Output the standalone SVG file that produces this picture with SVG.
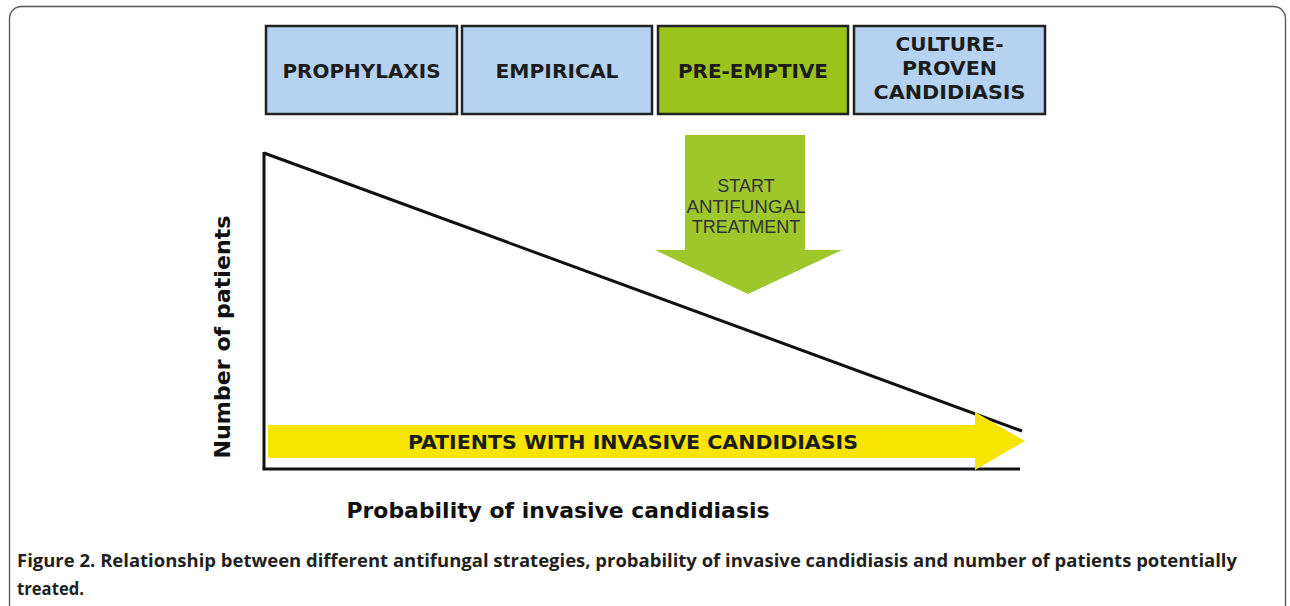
<svg xmlns="http://www.w3.org/2000/svg" width="1290" height="606" viewBox="0 0 1290 606">
<style>
.box{stroke:#222;stroke-width:2.5}
.blue{fill:#b5d3f0}
.green{fill:#9bc31c}
.bt{font-family:"DejaVu Sans",sans-serif;font-weight:bold;font-size:19px;fill:#1c1c1c;text-anchor:middle}
.ax{font-family:"DejaVu Sans",sans-serif;font-weight:bold;font-size:22px;fill:#111;text-anchor:middle}
.cap{font-family:"Open Sans","Liberation Sans",sans-serif;font-weight:bold;font-size:18px;fill:#231f20}
</style>
<rect x="9.5" y="6.5" width="1276" height="720" rx="12" fill="#fff" stroke="#555" stroke-width="1.3"/>
<g id="prophylaxis">
<rect class="box blue" x="266" y="26" width="191" height="88"/>
<text class="bt" x="361.5" y="78" textLength="158" lengthAdjust="spacingAndGlyphs">PROPHYLAXIS</text>
</g>
<g id="empirical">
<rect class="box blue" x="462" y="26" width="190" height="88"/>
<text class="bt" x="557" y="78" textLength="123" lengthAdjust="spacingAndGlyphs">EMPIRICAL</text>
</g>
<g id="preemptive">
<rect class="box green" x="658" y="26" width="190" height="88"/>
<text class="bt" x="753" y="78" textLength="150" lengthAdjust="spacingAndGlyphs">PRE-EMPTIVE</text>
</g>
<g id="culture">
<rect class="box blue" x="854" y="26" width="191" height="88"/>
<text class="bt" x="949.5" y="51" textLength="108" lengthAdjust="spacingAndGlyphs">CULTURE-</text>
<text class="bt" x="949.5" y="75" textLength="95" lengthAdjust="spacingAndGlyphs">PROVEN</text>
<text class="bt" x="949.5" y="99" textLength="152" lengthAdjust="spacingAndGlyphs">CANDIDIASIS</text>
</g>
<g id="connectors">
<g id="triangle" fill="none" stroke="#111" stroke-width="3">
<line x1="264" y1="152" x2="264" y2="469"/>
<line x1="262.5" y1="469" x2="1020" y2="469"/>
<line x1="264" y1="153" x2="1022" y2="431"/>
</g>
<g id="patients-arrow">
<polygon points="268,425 975,425 975,412 1025,441 975,470 975,458 268,458" fill="#f7e500"/>
<text x="633" y="449" font-family="DejaVu Sans Condensed, DejaVu Sans, sans-serif" font-weight="bold" font-size="19" fill="#1c1c1c" text-anchor="middle" textLength="450" lengthAdjust="spacingAndGlyphs">PATIENTS WITH INVASIVE CANDIDIASIS</text>
</g>
<g id="start-arrow">
<polygon points="685,135 805,135 805,250 842,250 748,294 655,250 685,250" fill="#9dc72b"/>
<g font-family="Liberation Sans, Arial, sans-serif" font-size="18" fill="#333" text-anchor="middle">
<text x="746" y="192">START</text>
<text x="746" y="213" textLength="119" lengthAdjust="spacingAndGlyphs">ANTIFUNGAL</text>
<text x="746" y="233">TREATMENT</text>
</g>
</g>
</g>
<text class="ax" transform="translate(230,337) rotate(-90)" textLength="243" lengthAdjust="spacingAndGlyphs">Number of patients</text>
<text class="ax" x="558" y="518" textLength="423" lengthAdjust="spacingAndGlyphs">Probability of invasive candidiasis</text>
<text class="cap" x="17" y="567" textLength="1220" lengthAdjust="spacingAndGlyphs">Figure 2. Relationship between different antifungal strategies, probability of invasive candidiasis and number of patients potentially</text>
<text class="cap" x="17" y="595" textLength="67" lengthAdjust="spacingAndGlyphs">treated.</text>
</svg>
